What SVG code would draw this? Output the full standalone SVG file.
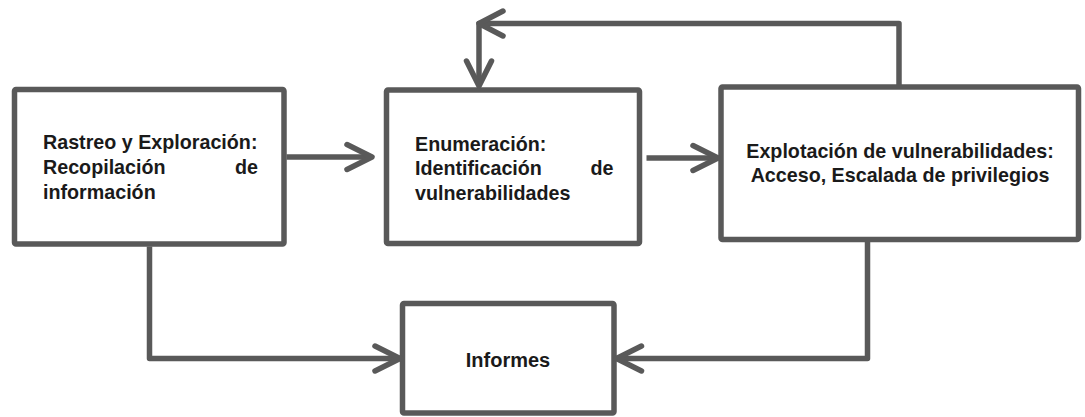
<svg xmlns="http://www.w3.org/2000/svg" width="1085" height="417" viewBox="0 0 1085 417">
  <style>
    .box { fill: #ffffff; stroke: #595959; stroke-width: 5.5; }
    .conn { fill: none; stroke: #595959; stroke-width: 5.5; stroke-linejoin: round; stroke-linecap: butt; }
    .head { fill: none; stroke: #595959; stroke-width: 5.5; stroke-linejoin: round; stroke-linecap: round; }
    .t { font-family: "Liberation Sans", Arial, sans-serif; font-weight: bold; font-size: 19.7px; fill: #1a1a1a; }
  </style>
  <defs>
    <marker id="arr" markerUnits="userSpaceOnUse" markerWidth="40" markerHeight="40" refX="0" refY="0" orient="auto" overflow="visible">
      <path class="head" d="M-25,-12.5 L0,0 L-25,12.5"/>
    </marker>
  </defs>

  <g id="node-rastreo">
    <rect class="box" x="14.5" y="89.5" width="269.5" height="154.5" rx="1.5"/>
    <text class="t" x="43" y="149">Rastreo y Exploración:</text>
    <text class="t" x="43" y="174">Recopilación</text>
    <text class="t" x="258" y="174" text-anchor="end">de</text>
    <text class="t" x="43" y="199">información</text>
  </g>

  <g id="node-enumeracion">
    <rect class="box" x="386.5" y="90" width="253" height="153.5" rx="1.5"/>
    <text class="t" x="415" y="150.5">Enumeración:</text>
    <text class="t" x="415" y="175">Identificación</text>
    <text class="t" x="613.5" y="175" text-anchor="end">de</text>
    <text class="t" x="415" y="200">vulnerabilidades</text>
  </g>

  <g id="node-explotacion">
    <rect class="box" x="721" y="87" width="357.5" height="152.5" rx="1.5"/>
    <text class="t" x="900" y="157.5" text-anchor="middle">Explotación de vulnerabilidades:</text>
    <text class="t" x="900" y="182" text-anchor="middle">Acceso, Escalada de privilegios</text>
  </g>

  <g id="node-informes">
    <rect class="box" x="402.5" y="303.5" width="211.5" height="109.5" rx="1.5"/>
    <text class="t" x="508" y="366.5" text-anchor="middle" style="font-size:20px">Informes</text>
  </g>

  <g id="connectors">
    <path class="conn" d="M286.5,157 H372" marker-end="url(#arr)"/>
    <path class="conn" d="M646.5,158 H718" marker-end="url(#arr)"/>
    <path class="conn" d="M899,85 V23.5 H479 V86" marker-end="url(#arr)"/>
    <path class="head" d="M503,11 L479,23.5 L503,36"/>
    <path class="conn" d="M149.5,246.5 V358.5 H400" marker-end="url(#arr)"/>
    <path class="conn" d="M867.5,242 V358.5 H616.5" marker-end="url(#arr)"/>
  </g>
</svg>
